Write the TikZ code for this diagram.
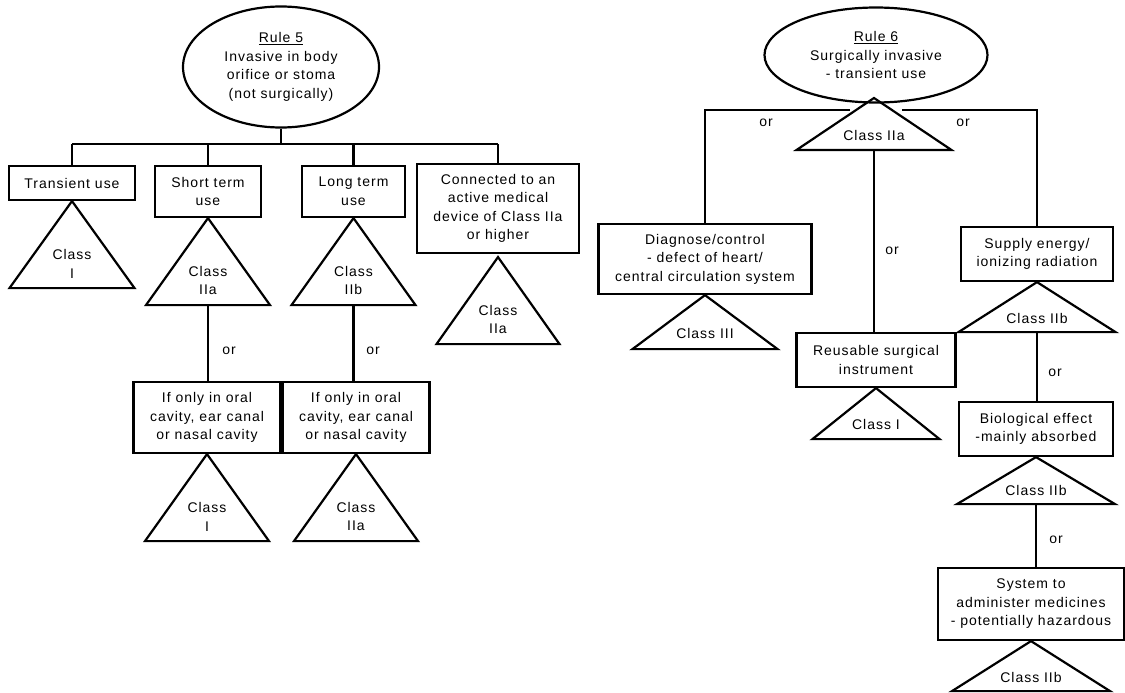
\documentclass[tikz,border=0pt]{standalone}
\usepackage{fontspec}
\newfontfamily\dgfont[LetterSpace=7]{Liberation Sans}
\newcommand\dg{\dgfont\fontsize{14}{18.5}\selectfont}
\usetikzlibrary{shapes.geometric,calc}
\newcommand\ctri[5]{%
  \coordinate (#1a) at #2;
  \draw[tri] (#1a) -- ++(#3,#4) -- ++(-2*#3,0) -- cycle;
  \coordinate (#1b) at ($(#1a)+(0,#4)$);
  \node[lbl] (#1) at ($(#1a)+(0,0.72*#4)$) {#5};
}
\begin{document}
\begin{tikzpicture}[x=1pt,y=-1pt,
  box/.style={draw,line width=2.2pt,inner sep=0pt,align=center,font=\dg},
  ell/.style={draw,ellipse,line width=2.2pt,inner sep=0pt,align=center,font=\dg},
  conn/.style={line width=2.2pt},
  tri/.style={draw,line width=2.2pt,line join=miter},
  lbl/.style={inner sep=0pt,align=center,font=\dg},
]
\useasboundingbox (0,0) rectangle (1125,693);

% ---------------- Rule 5 ----------------
\node[ell,minimum width=196pt,minimum height=121pt] (E5) at (281,67)
  {\underline{Rule 5}\\Invasive in body\\orifice or stoma\\(not surgically)};
\coordinate (bar5) at (281,144);
\node[box,minimum width=126pt,minimum height=34pt] (B1) at (72,183) {Transient use};
\node[box,minimum width=106pt,minimum height=51pt] (B2) at (208,191.5) {Short term\\use};
\node[box,minimum width=103pt,minimum height=51pt] (B3) at (353.5,191.5) {Long term\\use};
\node[box,minimum width=162pt,minimum height=89pt] (B4) at (498,208.5)
  {Connected to an\\active medical\\device of Class IIa\\or higher};

\draw[conn] (E5) -- (bar5);
\draw[conn] (B1.north |- bar5) -- (B4.north |- bar5);
\foreach \b in {B1,B2,B3,B4} \draw[conn] (\b.north |- bar5) -- (\b.north);

\ctri{T1}{(B1.south)}{62.5}{87}{Class\\I}
\ctri{T2}{(B2.south)}{62}{87}{Class\\IIa}
\ctri{T3}{(B3.south)}{62}{87}{Class\\IIb}
\ctri{T4}{($(B4.south)+(0,3)$)}{61.5}{87}{Class\\IIa}

\node[box,minimum width=147pt,minimum height=71pt] (I1) at (207,417.5)
  {If only in oral\\cavity, ear canal\\or nasal cavity};
\node[box,minimum width=147pt,minimum height=71pt] (I2) at (356,417.5)
  {If only in oral\\cavity, ear canal\\or nasal cavity};
\draw[conn] (T2b) -- (T2b |- I1.north);
\draw[conn] (T3b) -- (T3b |- I2.north);
\node[lbl] (or1) at (229,351) {or};
\node[lbl] (or2) at (373,351) {or};

\ctri{T5}{(I1.south)}{62}{87}{Class\\I}
\ctri{T6}{(I2.south)}{62}{87}{Class\\IIa}

% ---------------- Rule 6 ----------------
\node[ell,minimum width=223pt,minimum height=95pt] (E6) at (876,55)
  {\underline{Rule 6}\\Surgically invasive\\- transient use};
\ctri{T7}{(874,98)}{77.5}{52}{Class IIa}
\coordinate (J6l) at (850,110);
\coordinate (J6r) at (902,110);

\node[box,minimum width=213pt,minimum height=70pt] (D) at (705,259)
  {Diagnose/control\\- defect of heart/\\central circulation system};
\node[box,minimum width=152pt,minimum height=54pt] (S) at (1037,254)
  {Supply energy/\\ionizing radiation};
\node[box,minimum width=159pt,minimum height=54pt] (R) at (876,360)
  {Reusable surgical\\instrument};

\draw[conn] (J6l) -| (D.north);
\draw[conn] (J6r) -| (S.north);
\draw[conn] (T7b) -- (T7b |- R.north);
\node[lbl] (or3) at (766,123) {or};
\node[lbl] (or4) at (963,123) {or};
\node[lbl] (or5) at (892,251) {or};

\ctri{T8}{(D.south)}{72.5}{54}{Class III}
\ctri{T9}{(R.south)}{63.5}{51}{Class I}
\ctri{T10}{(S.south)}{78.5}{50}{Class IIb}

\node[box,minimum width=154pt,minimum height=54pt] (Bio) at (1036,429)
  {Biological effect\\-mainly absorbed};
\draw[conn] (T10b) -- (T10b |- Bio.north);
\node[lbl] (or6) at (1055,373) {or};
\ctri{T11}{(Bio.south)}{79}{47}{Class IIb}

\node[box,minimum width=186pt,minimum height=72pt] (Sys) at (1031,604)
  {System to\\administer medicines\\- potentially hazardous};
\draw[conn] (T11b) -- (T11b |- Sys.north);
\node[lbl] (or7) at (1056,540) {or};
\ctri{T12}{(Sys.south)}{79}{50}{Class IIb}
\end{tikzpicture}
\end{document}
